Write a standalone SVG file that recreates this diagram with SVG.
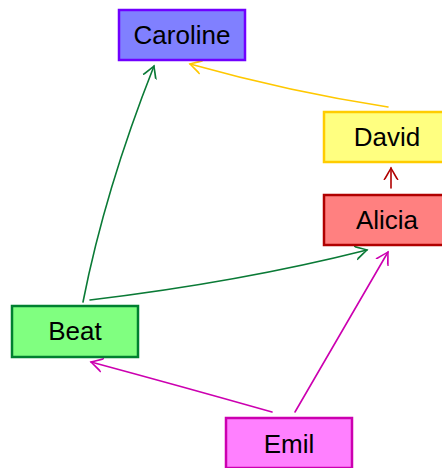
<svg xmlns="http://www.w3.org/2000/svg" width="442" height="468" viewBox="0 0 442 468">
<style>
text{font-family:"Liberation Sans",Arial,sans-serif;font-size:26px;fill:#000;text-anchor:middle}
.box{stroke-width:2.5}
.e{fill:none;stroke-width:1.6;stroke-linecap:round}
</style>
<defs>
<marker id="ag" markerUnits="userSpaceOnUse" markerWidth="20" markerHeight="20" refX="12" refY="8" orient="auto"><path d="M0,1 Q7,5 12,8 Q7,11 0,15 M1,2 Q8,6 12,8 Q8,10 1,14" fill="none" stroke="#0a7a36" stroke-width="1.4"/></marker>
<marker id="ay" markerUnits="userSpaceOnUse" markerWidth="20" markerHeight="20" refX="12" refY="8" orient="auto"><path d="M0,1 Q7,5 12,8 Q7,11 0,15 M1,2 Q8,6 12,8 Q8,10 1,14" fill="none" stroke="#ffc800" stroke-width="1.4"/></marker>
<marker id="ar" markerUnits="userSpaceOnUse" markerWidth="20" markerHeight="20" refX="12" refY="8" orient="auto"><path d="M0,1 Q7,5 12,8 Q7,11 0,15 M1,2 Q8,6 12,8 Q8,10 1,14" fill="none" stroke="#b00000" stroke-width="1.4"/></marker>
<marker id="am" markerUnits="userSpaceOnUse" markerWidth="20" markerHeight="20" refX="12" refY="8" orient="auto"><path d="M0,1 Q7,5 12,8 Q7,11 0,15 M1,2 Q8,6 12,8 Q8,10 1,14" fill="none" stroke="#cc00b0" stroke-width="1.4"/></marker>
</defs>
<g id="edges">
<path class="e" stroke="#0a7a36" d="M83,302 Q105,190 154,66" marker-end="url(#ag)"/>
<path class="e" stroke="#0a7a36" d="M90,300 Q240,282 367,250" marker-end="url(#ag)"/>
<path class="e" stroke="#ffc800" d="M388,107 Q290,92 190,64" marker-end="url(#ay)"/>
<path class="e" stroke="#b00000" d="M391,188 L391,168" marker-end="url(#ar)"/>
<path class="e" stroke="#cc00b0" d="M295,412 L388,252" marker-end="url(#am)"/>
<path class="e" stroke="#cc00b0" d="M272,412 Q180,386 91,362" marker-end="url(#am)"/>
</g>
<g id="caroline"><rect class="box" x="119" y="10" width="126" height="50" fill="#8080ff" stroke="#7000ff"/><text x="182" y="44">Caroline</text></g>
<g id="david"><rect class="box" x="324" y="112" width="126" height="50" fill="#ffff80" stroke="#ffcc00"/><text x="387" y="146">David</text></g>
<g id="alicia"><rect class="box" x="324" y="195" width="126" height="50" fill="#ff8080" stroke="#b00000"/><text x="387" y="229">Alicia</text></g>
<g id="beat"><rect class="box" x="12" y="306" width="126" height="51" fill="#80ff80" stroke="#008030"/><text x="75" y="340">Beat</text></g>
<g id="emil"><rect class="box" x="226" y="418" width="126" height="50" fill="#ff80ff" stroke="#cc00b0"/><text x="289" y="453">Emil</text></g>
</svg>
